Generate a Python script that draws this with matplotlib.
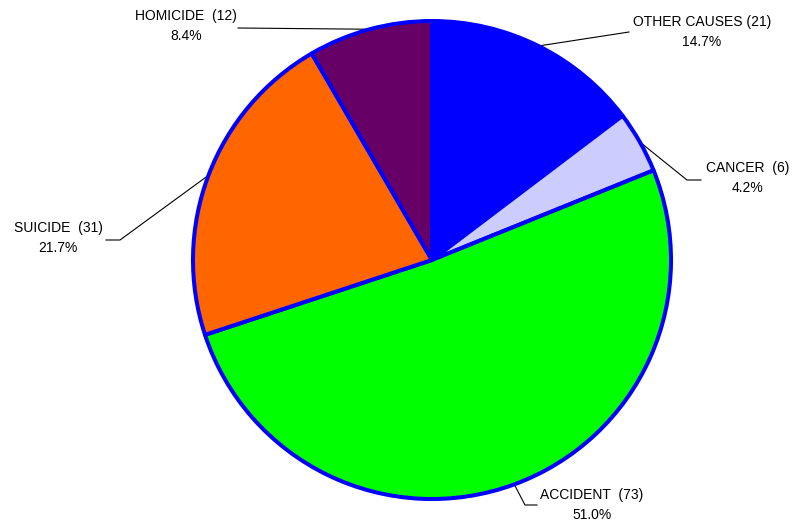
import numpy as np
import matplotlib.pyplot as plt

plt.rcParams['font.family'] = ['Liberation Sans', 'DejaVu Sans']

causes = ["OTHER CAUSES", "CANCER", "ACCIDENT", "SUICIDE", "HOMICIDE"]
counts = [21, 6, 73, 31, 12]
percents = ["14.7%", "4.2%", "51.0%", "21.7%", "8.4%"]
name_gap = [" ", "  ", "  ", "  ", "  "]
colors = ["#0000FF", "#CCCCFF", "#00FF00", "#FF6600", "#660066"]

W, H = 796, 525
fig = plt.figure(figsize=(W / 100, H / 100), dpi=100)
ax = fig.add_axes([0, 0, 1, 1])

cx, cy, r = 432, H - 260, 239
ax.pie(counts, colors=colors, startangle=90, counterclock=False,
       center=(cx, cy), radius=r, frame=True,
       wedgeprops=dict(edgecolor="#0000FF", linewidth=2.9, joinstyle="round"))
ax.set_xlim(0, W)
ax.set_ylim(0, H)
ax.set_aspect('equal')
ax.axis('off')

# label anchors (text centre x, line1 y, leader end points) in pixel coords (top-down y)
label_pos = [
    (702, 22, [(629, 32)]),
    (748, 168, [(687, 180), (701, 180)]),
    (592, 495, [(525, 505), (537, 505)]),
    (58, 228, [(120, 240), (106, 240)]),
    (186, 16, [(238, 28)]),
]

total = sum(counts)
start = 90.0
for i, c in enumerate(counts):
    sweep = c / total * 360
    mid = np.radians(start - sweep / 2)
    start -= sweep
    ex, ey = cx + r * np.cos(mid), cy + r * np.sin(mid)
    tx, ty, pts = label_pos[i]
    xs = [ex] + [p[0] for p in pts]
    ys = [ey] + [H - p[1] for p in pts]
    ax.plot(xs, ys, color="black", lw=0.8, zorder=0.5)
    ax.text(tx, H - ty, f"{causes[i]}{name_gap[i]}({c})", ha="center", va="center", fontsize=10)
    ax.text(tx, H - ty - 20, percents[i], ha="center", va="center", fontsize=10)

fig.savefig("out.png", dpi=100)
